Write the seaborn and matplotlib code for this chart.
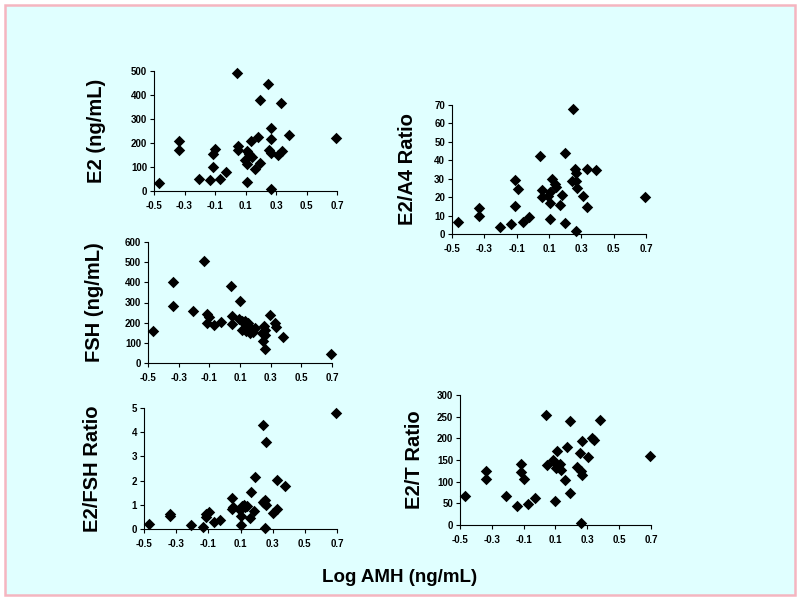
import numpy as np
import pandas as pd
import seaborn as sns
import matplotlib.pyplot as plt
from matplotlib.patches import Rectangle

#DATA
e2_x = [-0.467, -0.338, -0.338, -0.204, -0.134, -0.115, -0.115, -0.1, -0.068, -0.028,
        0.046, 0.053, 0.053, 0.097, 0.108, 0.108, 0.108, 0.125, 0.135, 0.141,
        0.163, 0.181, 0.196, 0.196, 0.246, 0.251, 0.266, 0.266, 0.266, 0.266,
        0.316, 0.334, 0.338, 0.387, 0.695]
e2_y = [32, 209, 170, 50, 46, 98, 154, 173, 50, 78,
        493, 187, 170, 129, 167, 112, 39, 156, 209, 142,
        90, 223, 378, 118, 447, 170, 263, 216, 159, 8,
        152, 367, 167, 233, 222]

e2a4_x = [-0.463, -0.335, -0.335, -0.205, -0.132, -0.112, -0.112, -0.091, -0.06, -0.023,
          0.044, 0.054, 0.054, 0.095, 0.106, 0.106, 0.106, 0.116, 0.136, 0.141,
          0.168, 0.178, 0.199, 0.199, 0.244, 0.25, 0.26, 0.265, 0.267, 0.271,
          0.267, 0.308, 0.333, 0.333, 0.389, 0.695]
e2a4_y = [6.5, 14.1, 9.6, 3.8, 5.6, 29.1, 15.4, 24.4, 6.5, 9.2,
          42.5, 23.7, 20, 20.4, 22.6, 16.8, 8.3, 29.8, 27, 25.3,
          15.9, 21.3, 44, 6, 28.5, 68, 35.3, 28.5, 33.1, 25,
          1.8, 20.8, 35.3, 14.4, 34.5, 20.1]

fsh_x = [-0.467, -0.336, -0.336, -0.205, -0.136, -0.118, -0.118, -0.1, -0.068, -0.027,
         0.041, 0.046, 0.046, 0.1, 0.094, 0.11, 0.111, 0.125, 0.133, 0.14,
         0.154, 0.166, 0.172, 0.187, 0.2, 0.242, 0.253, 0.259, 0.26, 0.264,
         0.265, 0.296, 0.325, 0.334, 0.38, 0.695]
fsh_y = [157, 400, 284, 258, 504, 245, 198, 228, 187, 202,
         380, 235, 195, 306, 218, 210, 165, 200, 206, 160,
         198, 149, 173, 152, 175, 149, 107, 185, 165, 69,
         140, 239, 198, 178, 129, 46]

e2fsh_x = [-0.47, -0.34, -0.34, -0.21, -0.135, -0.115, -0.115, -0.095, -0.065, -0.028,
           0.045, 0.05, 0.055, 0.095, 0.1, 0.105, 0.11, 0.12, 0.13, 0.14,
           0.16, 0.165, 0.186, 0.188, 0.238, 0.245, 0.24, 0.257, 0.255, 0.258,
           0.255, 0.3, 0.324, 0.33, 0.378, 0.695]
e2fsh_y = [0.21, 0.63, 0.52, 0.18, 0.08, 0.6, 0.5, 0.72, 0.27, 0.37,
           1.3, 0.82, 0.9, 0.78, 0.55, 0.15, 0.95, 0.98, 0.9, 0.95,
           0.45, 1.52, 0.76, 2.14, 1.12, 1.08, 4.3, 3.6, 1.2, 0.98,
           0.06, 0.66, 0.84, 2.03, 1.78, 4.78]

e2t_x = [-0.469, -0.338, -0.338, -0.21, -0.139, -0.118, -0.118, -0.097, -0.07, -0.028,
         0.041, 0.049, 0.087, 0.097, 0.098, 0.104, 0.108, 0.113, 0.13, 0.134,
         0.161, 0.175, 0.192, 0.192, 0.238, 0.251, 0.259, 0.266, 0.266, 0.263,
         0.304, 0.329, 0.339, 0.381, 0.695]
e2t_y = [68, 124, 106, 68, 45, 140, 123, 106, 49, 62,
         254, 139, 150, 144, 55, 132, 170, 137, 140, 128,
         104, 179, 241, 73, 133, 166, 125, 194, 116, 4,
         158, 200, 196, 243, 160]

x_ticks = [-0.5, -0.3, -0.1, 0.1, 0.3, 0.5, 0.7]

#STYLE
sns.set_style("ticks")
plt.rcParams['font.family'] = ['Liberation Sans', 'DejaVu Sans']
plt.rcParams['font.weight'] = 'bold'
plt.rcParams['text.color'] = 'black'
plt.rcParams['axes.labelcolor'] = 'black'

fig = plt.figure(figsize=(8, 6), dpi=100)
fig.patch.set_facecolor('white')
fig.patches.append(Rectangle((5 / 800, 5 / 600), 790 / 800, 590 / 600,
                             transform=fig.transFigure, facecolor='#e0ffff',
                             edgecolor='#f5b5c0', linewidth=1.8, zorder=-5))

#PANELS: (x, y, label, ymax, ystep, pixel box left/top/right/bottom, label x px)
panels = [
    (e2_x, e2_y, 'E2 (ng/mL)', 500, 100, (154, 71, 337, 191), 97),
    (e2a4_x, e2a4_y, 'E2/A4 Ratio', 70, 10, (452, 105, 646, 234), 408),
    (fsh_x, fsh_y, 'FSH (ng/mL)', 600, 100, (148, 242, 332, 363), 95),
    (e2fsh_x, e2fsh_y, 'E2/FSH Ratio', 5, 1, (144, 408, 337, 529), 93),
    (e2t_x, e2t_y, 'E2/T Ratio', 300, 50, (460, 395, 651, 525), 415),
]

for xs, ys, label, ymax, ystep, box, lab_px in panels:
    l, t, r, b = box
    ax = fig.add_axes([l / 800, 1 - b / 600, (r - l) / 800, (b - t) / 600])
    ax.patch.set_alpha(0)
    df = pd.DataFrame({'x': xs, 'y': ys})
    sns.scatterplot(data=df, x='x', y='y', marker='D', color='black',
                    s=34, linewidth=0, ax=ax, clip_on=False)
    ax.set_xlim(-0.5, 0.7)
    ax.set_ylim(0, ymax)
    ax.set_xticks(x_ticks)
    ax.set_xticklabels([f"{v:.1f}" for v in x_ticks])
    ax.set_yticks(np.arange(0, ymax + ystep / 2, ystep))
    ax.tick_params(labelsize=7, length=3, width=0.8, colors='black')
    ax.tick_params(axis='x', pad=4)
    ax.tick_params(axis='y', pad=2)
    for lab in ax.get_xticklabels() + ax.get_yticklabels():
        lab.set_fontweight('bold')
    ax.set_xlabel('')
    ax.set_ylabel(label, fontsize=14.5, fontweight='bold', va='center', color='black')
    ax.yaxis.set_label_coords((lab_px - l) / (r - l), 0.5)
    sns.despine(ax=ax)
    ax.spines['left'].set_linewidth(0.8)
    ax.spines['bottom'].set_linewidth(0.8)
    ax.spines['left'].set_color('black')
    ax.spines['bottom'].set_color('black')

fig.text(0.5, 1 - 578 / 600, 'Log AMH (ng/mL)', ha='center', va='center',
         fontsize=13.5, fontweight='bold', color='black')

plt.savefig('out.png', dpi=100)
